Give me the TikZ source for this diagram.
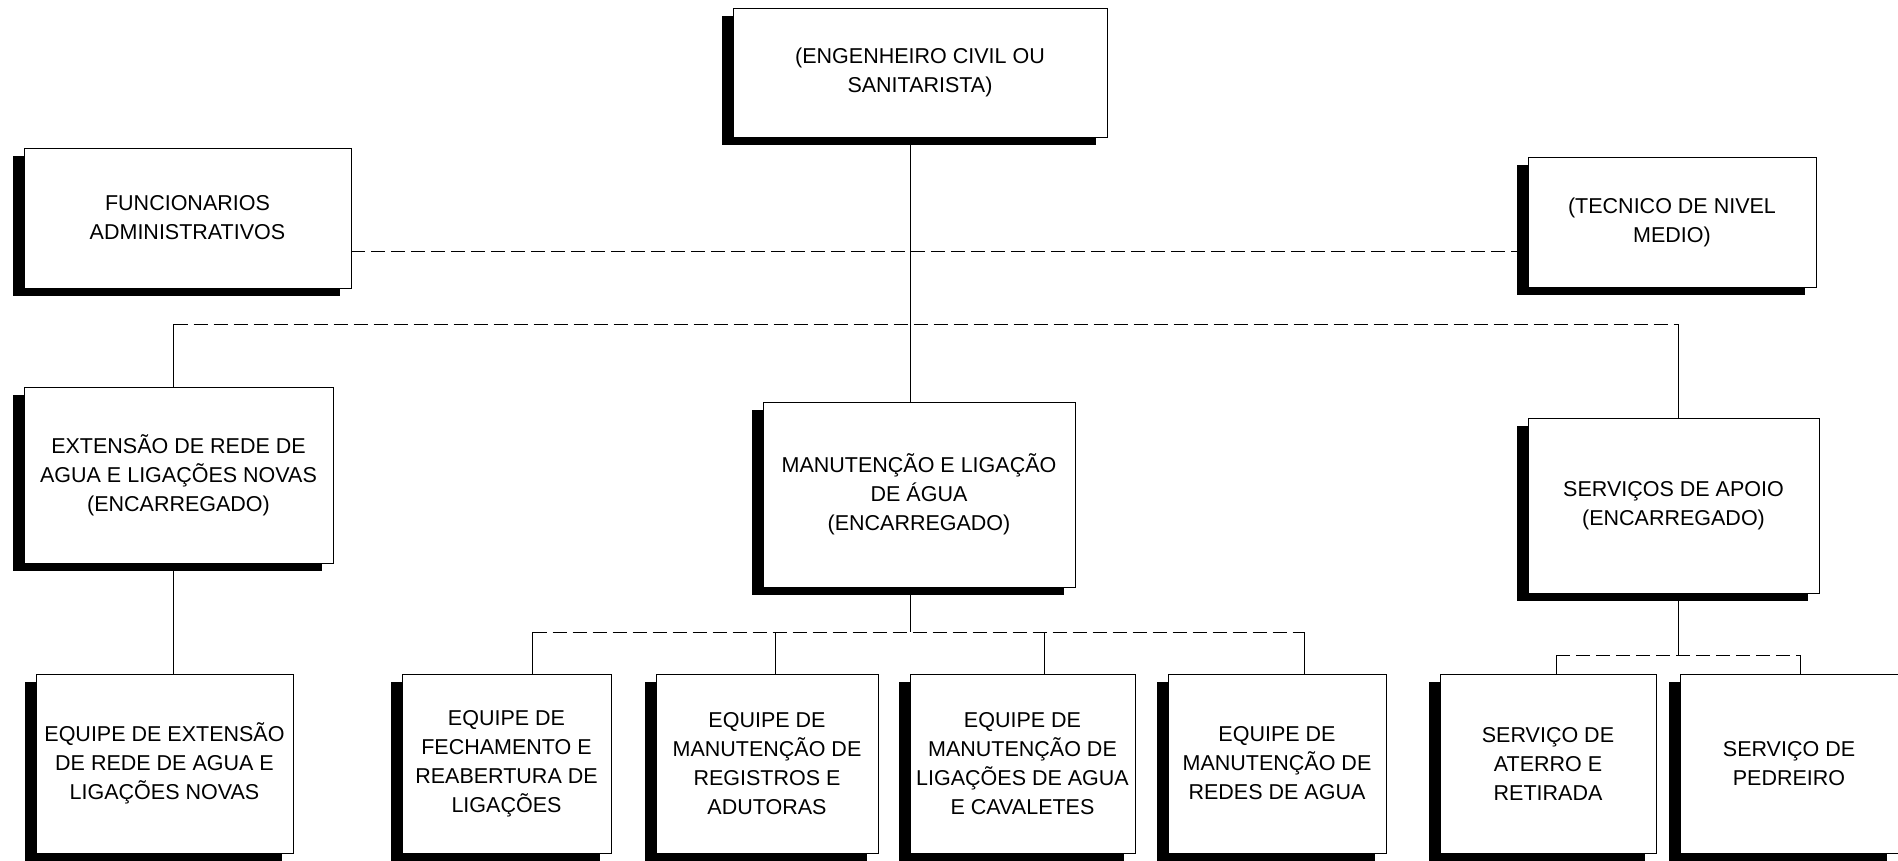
\documentclass[tikz,border=0pt]{standalone}
\usepackage{fontspec}
\setmainfont{Liberation Sans}
\usetikzlibrary{shadows}

\tikzset{
  caixa/.style={draw, fill=white, line width=0.9pt, inner sep=0pt, align=center,
    font=\fontsize{21.5}{29}\selectfont,
    general shadow={fill=black, shadow xshift=-11pt, shadow yshift=-8pt}},
  liga/.style={line width=1pt},
  bus/.style={line width=0.9pt, dash pattern=on 14pt off 6pt}
}

\begin{document}
\begin{tikzpicture}[x=1pt, y=-1pt]
\fill[white] (0,0) rectangle (1898,861);
\useasboundingbox (0,0) rectangle (1898,861);

% Top level
\node[caixa, minimum width=374pt, minimum height=129pt] (eng) at (920,72.5)
  {(ENGENHEIRO CIVIL OU\\SANITARISTA)};
\node[caixa, minimum width=327pt, minimum height=140pt] (func) at (187.5,218)
  {FUNCIONARIOS\\ADMINISTRATIVOS};
\node[caixa, minimum width=288pt, minimum height=130pt] (tec) at (1672,222)
  {(TECNICO DE NIVEL\\MEDIO)};

% Middle level
\node[caixa, minimum width=309pt, minimum height=176pt] (ext) at (178.5,475)
  {EXTENSÃO DE REDE DE\\AGUA E LIGAÇÕES NOVAS\\(ENCARREGADO)};
\node[caixa, minimum width=312pt, minimum height=185pt] (man) at (919,494.5)
  {MANUTENÇÃO E LIGAÇÃO\\DE ÁGUA\\(ENCARREGADO)};
\node[caixa, minimum width=291pt, minimum height=175pt] (apoio) at (1673.5,505.5)
  {SERVIÇOS DE APOIO\\(ENCARREGADO)};

% Teams
\node[caixa, minimum width=257pt, minimum height=179pt] (eqext) at (164.5,763.5)
  {EQUIPE DE EXTENSÃO\\DE REDE DE AGUA E\\LIGAÇÕES NOVAS};
\node[caixa, minimum width=209pt, minimum height=179pt] (eqfech) at (506.5,763.5)
  {EQUIPE DE\\FECHAMENTO E\\REABERTURA DE\\LIGAÇÕES};
\node[caixa, minimum width=222pt, minimum height=179pt] (eqreg) at (767,763.5)
  {EQUIPE DE\\MANUTENÇÃO DE\\REGISTROS E\\ADUTORAS};
\node[caixa, minimum width=225pt, minimum height=179pt] (eqlig) at (1022.5,763.5)
  {EQUIPE DE\\MANUTENÇÃO DE\\LIGAÇÕES DE AGUA\\E CAVALETES};
\node[caixa, minimum width=218pt, minimum height=179pt] (eqredes) at (1277,763.5)
  {EQUIPE DE\\MANUTENÇÃO DE\\REDES DE AGUA};
\node[caixa, minimum width=216pt, minimum height=179pt] (aterro) at (1548,763.5)
  {SERVIÇO DE\\ATERRO E\\RETIRADA};
\node[caixa, minimum width=218pt, minimum height=179pt] (pedreiro) at (1789,763.5)
  {SERVIÇO DE\\PEDREIRO};

% Junction levels
\coordinate (j2) at (910,324);
\coordinate (j3) at (910,632);
\coordinate (j4) at (1679,655);

% Top lines
\draw[liga] ([xshift=-10pt]eng.south) -- ([xshift=-10pt]eng.south |- man.north);
\draw[bus] ([yshift=-33pt]func.east) -- ([yshift=-33pt]func.east -| tec.west);
\draw[bus] ([xshift=-5pt]ext.north |- j2) -- ([xshift=5pt]apoio.north |- j2);
\draw[liga] ([xshift=-5pt]ext.north) -- ([xshift=-5pt]ext.north |- j2);
\draw[liga] ([xshift=5pt]apoio.north) -- ([xshift=5pt]apoio.north |- j2);

% Left branch
\draw[liga] ([xshift=-5pt]ext.south) -- ([xshift=-5pt]ext.south |- eqext.north);

% Central branch
\draw[liga] ([xshift=-9pt]man.south) -- ([xshift=-9pt]man.south |- j3);
\draw[bus] ([xshift=26pt]eqfech.north |- j3) -- ([xshift=27pt]eqredes.north |- j3);
\draw[liga] ([xshift=26pt]eqfech.north) -- ([xshift=26pt]eqfech.north |- j3);
\draw[liga] ([xshift=8pt]eqreg.north) -- ([xshift=8pt]eqreg.north |- j3);
\draw[liga] ([xshift=22pt]eqlig.north) -- ([xshift=22pt]eqlig.north |- j3);
\draw[liga] ([xshift=27pt]eqredes.north) -- ([xshift=27pt]eqredes.north |- j3);

% Right branch
\draw[liga] ([xshift=5pt]apoio.south) -- ([xshift=5pt]apoio.south |- j4);
\draw[bus] ([xshift=8pt]aterro.north |- j4) -- ([xshift=11pt]pedreiro.north |- j4);
\draw[liga] ([xshift=8pt]aterro.north) -- ([xshift=8pt]aterro.north |- j4);
\draw[liga] ([xshift=11pt]pedreiro.north) -- ([xshift=11pt]pedreiro.north |- j4);
\end{tikzpicture}
\end{document}
